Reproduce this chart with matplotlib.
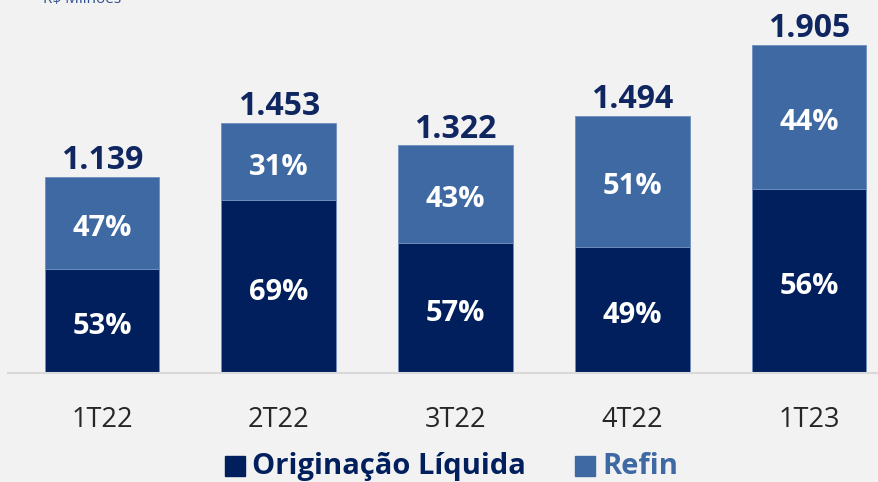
import matplotlib.pyplot as plt
from matplotlib.patches import Rectangle

# dados (R$ milhões)
trimestres = ["1T22", "2T22", "3T22", "4T22", "1T23"]
totais = [1139, 1453, 1322, 1494, 1905]
pct_originacao = [53, 69, 57, 49, 56]
pct_refin = [47, 31, 43, 51, 44]
rotulos_totais = ["1.139", "1.453", "1.322", "1.494", "1.905"]

cor_orig = "#001f5c"
cor_refin = "#3e69a3"
cor_texto = "#0f2660"
fundo = "#f2f2f2"

plt.rcParams['font.family'] = ['Open Sans', 'DejaVu Sans']

fig = plt.figure(figsize=(8.79, 4.82), dpi=100, facecolor=fundo)
ax = fig.add_axes([8/879, 109/482, 871/879, 373/482])
ax.set_facecolor(fundo)

x = list(range(len(trimestres)))
orig = [t*p/100 for t, p in zip(totais, pct_originacao)]
refin = [t - o for t, o in zip(totais, orig)]

ax.bar(x, orig, width=0.65, color=cor_orig, edgecolor="#6f8fc0", linewidth=0.6)
ax.bar(x, refin, width=0.65, bottom=orig, color=cor_refin, edgecolor="#6f8fc0", linewidth=0.6)

for i in x:
    ax.text(i, orig[i]/2 - 12, f"{pct_originacao[i]}%", ha='center', va='center_baseline',
            color='white', fontsize=21, fontweight='bold')
    ax.text(i, orig[i] + refin[i]/2 - 12, f"{pct_refin[i]}%", ha='center', va='center_baseline',
            color='white', fontsize=21, fontweight='bold')
    ax.text(i, totais[i] + 45, rotulos_totais[i], ha='center', va='baseline',
            color=cor_texto, fontsize=23, fontweight='bold')

ax.set_xlim(-0.532, 4.396)
ax.set_ylim(0, 2166)
for s in ['top', 'right', 'left']:
    ax.spines[s].set_visible(False)
ax.spines['bottom'].set_color('#d9d9d9')
ax.spines['bottom'].set_linewidth(1.5)
ax.set_yticks([])
ax.set_xticks(x)
ax.set_xticklabels(trimestres, fontsize=19.5, color='#262626')
ax.tick_params(axis='x', length=0, pad=24)

fig.text(43/879, 1.0, "R$ Milhões", ha='left', va='center', fontsize=11, color='#2f4f8f')

# legenda
fig.patches.append(Rectangle((225/879, 6/482), 20/879, 20/482, transform=fig.transFigure,
                             color=cor_orig))
fig.text(252/879, 8/482, "Originação Líquida", ha='left', va='baseline',
         fontsize=21, fontweight='bold', color=cor_orig)
fig.patches.append(Rectangle((575/879, 6/482), 20/879, 20/482, transform=fig.transFigure,
                             color=cor_refin))
fig.text(602/879, 8/482, "Refin", ha='left', va='baseline',
         fontsize=21, fontweight='bold', color=cor_refin)

fig.savefig("out.png", dpi=100, facecolor=fundo)
